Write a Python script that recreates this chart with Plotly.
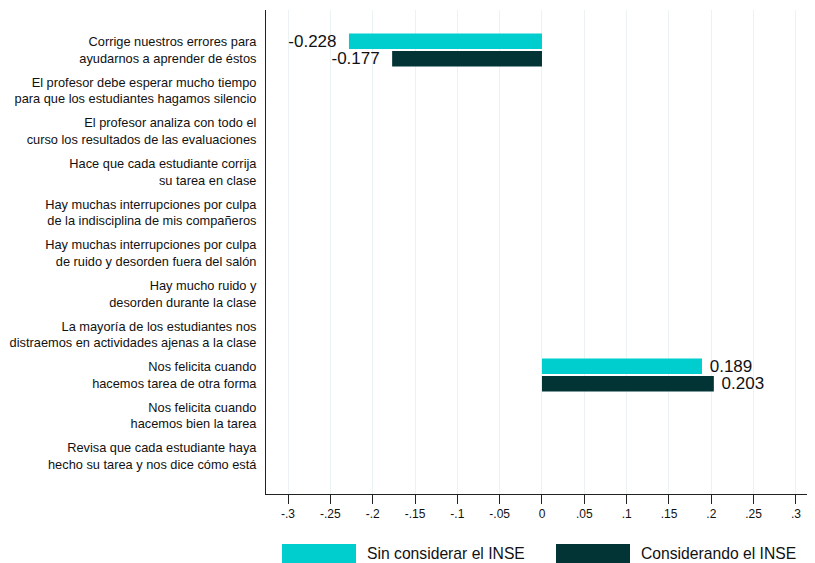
import plotly.graph_objects as go

# categories, top to bottom
categories = [
    "Corrige nuestros errores para<br>ayudarnos a aprender de éstos",
    "El profesor debe esperar mucho tiempo<br>para que los estudiantes hagamos silencio",
    "El profesor analiza con todo el<br>curso los resultados de las evaluaciones",
    "Hace que cada estudiante corrija<br>su tarea en clase",
    "Hay muchas interrupciones por culpa<br>de la indisciplina de mis compañeros",
    "Hay muchas interrupciones por culpa<br>de ruido y desorden fuera del salón",
    "Hay mucho ruido y<br>desorden durante la clase",
    "La mayoría de los estudiantes nos<br>distraemos en actividades ajenas a la clase",
    "Nos felicita cuando<br>hacemos tarea de otra forma",
    "Nos felicita cuando<br>hacemos bien la tarea",
    "Revisa que cada estudiante haya<br>hecho su tarea y nos dice cómo está",
]
sin_inse = [-0.228, None, None, None, None, None, None, None, 0.189, None, None]
con_inse = [-0.177, None, None, None, None, None, None, None, 0.203, None, None]
series_names = ["Sin considerar el INSE", "Considerando el INSE"]
tick_vals = [-0.3, -0.25, -0.2, -0.15, -0.1, -0.05, 0, 0.05, 0.1, 0.15, 0.2, 0.25, 0.3]
tick_text = ["-.3", "-.25", "-.2", "-.15", "-.1", "-.05", "0", ".05", ".1", ".15", ".2", ".25", ".3"]

COLORS = ["#00CDCD", "#023436"]
FONT = "Liberation Sans, Arial, sans-serif"

# the page puts the figure 8px in from the top-left corner
OFF = 8
W, H = 815 - OFF, 563 - OFF
M_L, M_R, M_T, M_B = 266 - OFF, 0, 10 - OFF, 563 - 494


def fmt(v):
    if v is None:
        return ""
    # a little extra room between bar end and its label
    return f"{v:.3f}\u00a0\u00a0" if v < 0 else f"\u00a0{v:.3f}"


fig = go.Figure()
for name, vals, col in zip(series_names, [sin_inse, con_inse], COLORS):
    fig.add_trace(go.Bar(
        y=categories, x=vals, orientation="h", name=name,
        marker=dict(color=col, line=dict(width=0)),
        text=[fmt(v) for v in vals], textposition="outside",
        textfont=dict(size=17, color="#111", family=FONT),
        constraintext="none", cliponaxis=False, showlegend=False,
    ))

fig.update_layout(
    width=W, height=H,
    margin=dict(l=M_L, r=M_R, t=M_T, b=M_B),
    barmode="group", bargap=0.14, bargroupgap=0.116,
    plot_bgcolor="white", paper_bgcolor="white",
    font=dict(family=FONT, color="#111"),
    xaxis=dict(
        range=[-0.326, 0.3225], tickvals=tick_vals, ticktext=tick_text,
        tickfont=dict(size=12), ticks="outside", ticklen=9, tickcolor="#222",
        showgrid=True, gridcolor="#eaf2f3", gridwidth=1, zeroline=False,
        showline=True, linecolor="#222", linewidth=1,
    ),
    yaxis=dict(
        categoryorder="array", categoryarray=categories,
        range=[10.93, -0.985], ticks="", tickfont=dict(size=12.8),
        showgrid=False, zeroline=False, showline=True, linecolor="#222", linewidth=1,
        ticklabelstandoff=6,
    ),
)

# legend drawn by hand with wide swatches, like the original (page pixels)
pw = W - M_L - M_R
ph = H - M_T - M_B


def px_x(px):
    return (px - OFF - M_L) / pw


def px_y(py):
    return (H - M_B - (py - OFF)) / ph


legend_swatch_left = [282, 556]
for name, col, left in zip(series_names, COLORS, legend_swatch_left):
    fig.add_shape(type="rect", xref="paper", yref="paper",
                  x0=px_x(left), x1=px_x(left + 74), y0=px_y(544), y1=px_y(564),
                  fillcolor=col, line=dict(width=0))
    fig.add_annotation(xref="paper", yref="paper", x=px_x(left + 83), y=px_y(553),
                       text=name, showarrow=False, xanchor="left", yanchor="middle",
                       font=dict(size=15.7, color="#111", family=FONT))

fig.write_html("out.html")
